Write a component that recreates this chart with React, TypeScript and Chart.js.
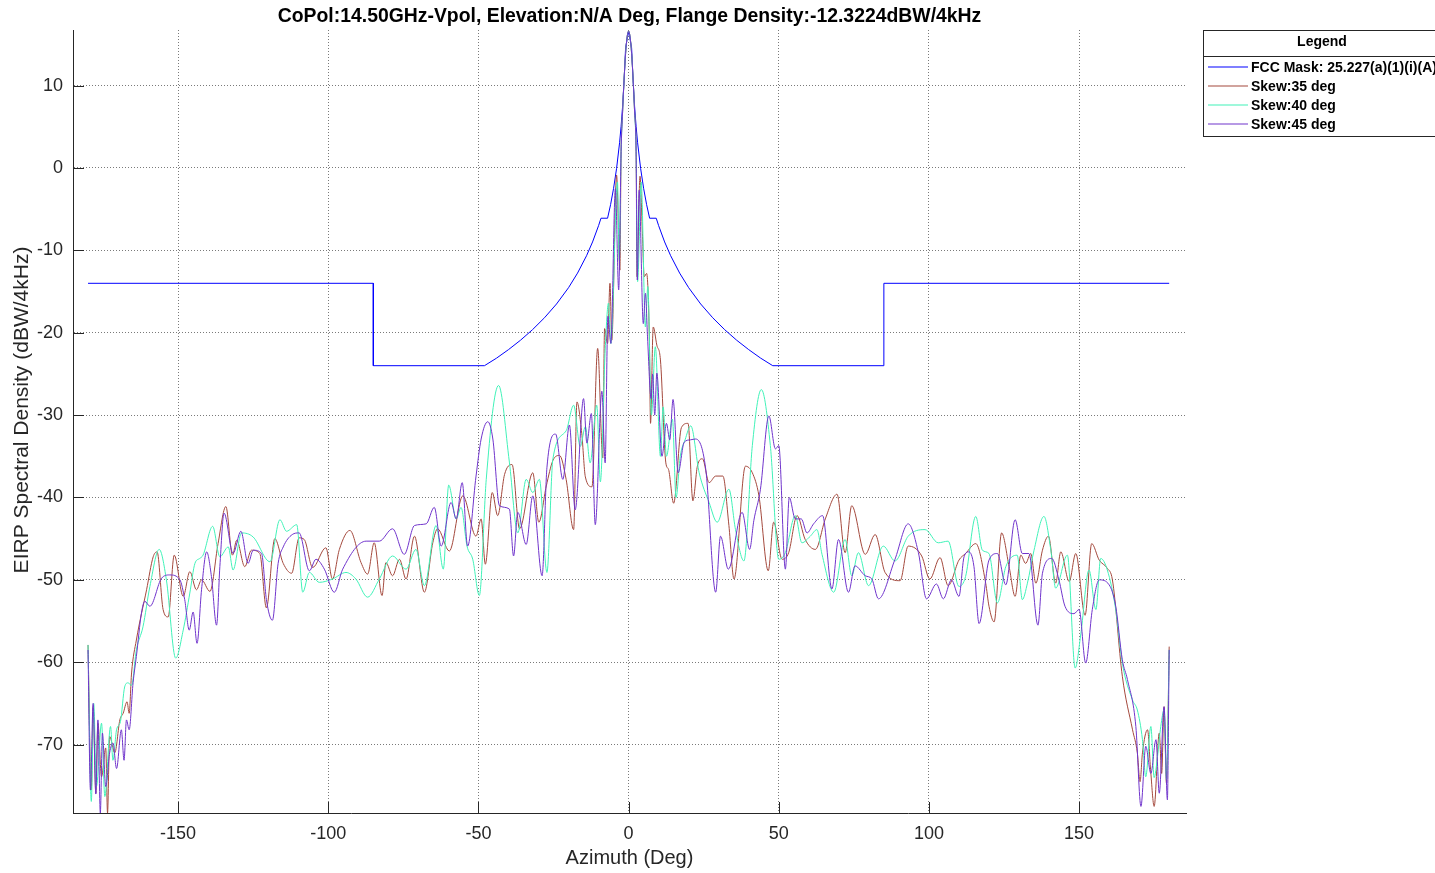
import React, { useEffect, useRef } from "react";
import { Chart, registerables } from "chart.js";

Chart.register(...registerables);

const chartTitle =
  "CoPol:14.50GHz-Vpol, Elevation:N/A Deg, Flange Density:-12.3224dBW/4kHz";
const xAxisTitle = "Azimuth (Deg)";
const yAxisTitle = "EIRP Spectral Density (dBW/4kHz)";
const legendTitle = "Legend";

const xTicks = [-150, -100, -50, 0, 50, 100, 150];
const yTicks = [-70, -60, -50, -40, -30, -20, -10, 0, 10];

const seriesNames = [
  "FCC Mask: 25.227(a)(1)(i)(A)",
  "Skew:35 deg",
  "Skew:40 deg",
  "Skew:45 deg",
];
const seriesColors = ["#0000ff", "#a4493d", "#40f2b8", "#7034cc"];

// [azimuth deg, dBW/4kHz]
const fccMask: [number, number][] = [
  [-180, -14], [-85, -14], [-85, -24], [-48, -24], [-44, -23.09], [-40, -22.05],
  [-36, -20.91], [-32, -19.63], [-28, -18.18], [-24, -16.51], [-20, -14.53],
  [-17, -12.76], [-14, -10.65], [-12, -8.98], [-10, -7.0], [-9.2, -6.1],
  [-7, -6.1], [-6, -4.45], [-5, -2.47], [-4, -0.05], [-3, 3.07], [-2.5, 5.05],
  [-2, 7.47], [-1.5, 10.6], [-1, 14.6], [0, 16.6], [1, 14.6], [1.5, 10.6],
  [2, 7.47], [2.5, 5.05], [3, 3.07], [4, -0.05], [5, -2.47], [6, -4.45],
  [7, -6.1], [9.2, -6.1], [10, -7.0], [12, -8.98], [14, -10.65], [17, -12.76],
  [20, -14.53], [24, -16.51], [28, -18.18], [32, -19.63], [36, -20.91],
  [40, -22.05], [44, -23.09], [48, -24], [85, -24], [85, -14], [180, -14],
];

const mainLobe: [number, number][] = [
  [-2.5, 2.0], [-2.0, 6.8], [-1.5, 10.8], [-1.0, 13.9], [-0.5, 15.9], [0, 16.6],
  [0.5, 15.9], [1.0, 13.9], [1.5, 10.8], [2.0, 6.8], [2.5, 2.0],
];

const skew35: [number, number][] = [
  [-180, -57.9], [-178.9, -75.5], [-178.3, -65.4], [-177.4, -75.9], [-176.7, -67.4],
  [-175.5, -73.9], [-174.1, -70.4], [-173.5, -78.3], [-172.8, -69.0], [-171.1, -71.0],
  [-169.4, -67.0], [-168.3, -66.2], [-167.0, -64.8], [-166.3, -66.2], [-165.5, -61.3],
  [-163.9, -57.3], [-160.5, -51.2], [-158.3, -47.2], [-157.0, -46.6], [-155.0, -53.6],
  [-153.3, -54.5], [-151.3, -47.0], [-148.3, -52.0], [-146.1, -49.0], [-143.9, -51.2],
  [-142.2, -50.0], [-139.4, -51.4], [-136.7, -45.6], [-134.1, -41.1], [-131.9, -47.0],
  [-130.5, -45.2], [-127.8, -48.4], [-125.6, -46.4], [-122.8, -46.8], [-120.6, -53.4],
  [-117.8, -45.0], [-115.0, -48.0], [-112.2, -49.2], [-109.7, -44.9], [-108.0, -45.1],
  [-105.2, -48.5], [-100.8, -46.1], [-98.6, -49.9], [-96.3, -46.3], [-92.8, -44.0],
  [-89.1, -47.9], [-86.9, -49.3], [-84.7, -45.5], [-82.1, -51.9], [-80.8, -47.9],
  [-78.6, -49.5], [-76.3, -47.5], [-74.1, -49.9], [-71.3, -44.7], [-68.0, -51.5],
  [-65.2, -45.5], [-63.6, -43.8], [-59.7, -46.5], [-55.2, -39.8], [-50.8, -44.7],
  [-49.1, -42.6], [-47.7, -48.1], [-45.4, -39.4], [-43.6, -42.2], [-41.3, -37.2],
  [-38.8, -36.0], [-36.3, -43.8], [-31.9, -37.0], [-29.9, -43.0], [-27.4, -38.6],
  [-25.2, -35.5], [-23.0, -34.9], [-20.8, -37.8], [-18.3, -43.9], [-17.2, -28.4],
  [-15.6, -32.2], [-14.4, -37.5], [-12.2, -38.7], [-10.3, -21.9], [-8.6, -35.2],
  [-8.0, -19.5], [-7.0, -21.3], [-6.2, -14.0], [-5.6, -20.9], [-4.0, -0.85],
  [-2.9, -12.4],
  ...mainLobe,
  [2.8, -13.2], [3.8, -1.0], [4.6, -8.0], [5.2, -13.2], [6.0, -12.8], [6.9, -20.5],
  [7.3, -31.0], [8.2, -19.3], [9.4, -21.5], [10.6, -23.3], [12.4, -35.8], [13.3, -36.6],
  [15.0, -40.7], [17.6, -31.5], [19.8, -31.0], [21.4, -40.4], [22.9, -36.2], [24.6, -35.3],
  [26.8, -38.2], [29.0, -37.4], [31.4, -37.4], [33.4, -43.4], [35.1, -49.9], [38.9, -36.2],
  [41.2, -37.0], [43.4, -39.8], [46.5, -48.9], [48.3, -43.0], [51.1, -47.5], [53.3, -46.7],
  [56.1, -42.2], [58.8, -45.1], [62.2, -46.3], [65.5, -42.6], [69.4, -39.6], [72.1, -46.7],
  [74.3, -41.0], [78.8, -46.9], [82.1, -44.5], [85.4, -49.1], [90.4, -50.1], [93.1, -45.9],
  [97.6, -47.1], [100.3, -49.9], [103.7, -47.3], [106.4, -50.7], [110.0, -47.6],
  [112.2, -46.8], [115.6, -45.6], [118.9, -50.4], [120.0, -53.2], [121.7, -55.1],
  [124.2, -44.3], [126.7, -48.4], [128.7, -52.0], [130.6, -47.0], [132.2, -48.0],
  [133.9, -46.8], [135.6, -50.4], [137.8, -46.4], [139.8, -44.7], [142.2, -50.4],
  [143.9, -46.6], [146.7, -50.2], [148.9, -46.8], [152.0, -54.3], [154.2, -45.6],
  [156.7, -47.6], [159.4, -48.6], [161.1, -50.0], [164.4, -61.7], [167.8, -68.2],
  [169.4, -71.0], [170.3, -74.5], [171.1, -71.0], [172.8, -68.2], [173.8, -73.0],
  [175.0, -77.5], [176.7, -68.6], [177.5, -73.5], [178.3, -65.4], [179.1, -74.7],
  [180.0, -58.1],
];

const skew40: [number, number][] = [
  [-180, -57.9], [-178.9, -76.9], [-178.1, -65.0], [-177.2, -75.1], [-175.5, -67.4],
  [-174.4, -76.3], [-172.5, -67.8], [-171.7, -71.9], [-170.5, -68.2], [-169.2, -67.2],
  [-167.8, -63.0], [-166.7, -62.5], [-165.5, -62.8], [-163.9, -58.5], [-161.7, -55.7],
  [-159.4, -50.8], [-156.3, -46.3], [-153.9, -50.0], [-150.8, -59.5], [-148.3, -56.1],
  [-146.1, -51.6], [-144.4, -48.0], [-142.8, -47.4], [-141.7, -47.0], [-138.5, -43.5],
  [-136.1, -47.2], [-133.3, -46.0], [-131.7, -48.8], [-128.9, -44.3], [-125.0, -44.8],
  [-119.4, -47.8], [-116.1, -42.7], [-113.9, -44.1], [-110.5, -43.3], [-108.5, -51.5],
  [-106.3, -49.1], [-103.0, -50.3], [-98.6, -49.9], [-94.1, -49.1], [-90.8, -49.9],
  [-86.9, -52.1], [-83.0, -49.9], [-78.6, -47.1], [-74.1, -48.7], [-70.8, -46.3],
  [-68.0, -50.7], [-64.1, -43.4], [-61.7, -48.7], [-59.9, -38.5], [-57.4, -42.6],
  [-55.8, -41.2], [-53.8, -45.9], [-51.9, -47.5], [-49.7, -51.9], [-47.4, -37.8],
  [-43.3, -26.4], [-39.7, -35.7], [-36.9, -44.3], [-34.1, -37.8], [-31.9, -39.4],
  [-29.7, -37.8], [-27.2, -49.1], [-25.2, -35.3], [-20.8, -31.9], [-18.3, -28.8],
  [-16.1, -33.8], [-14.4, -31.4], [-12.8, -35.8], [-10.6, -28.8], [-9.4, -38.1],
  [-7.8, -22.1], [-6.7, -16.4], [-5.9, -21.3], [-3.7, -1.7], [-3.1, -11.2],
  ...mainLobe,
  [3.0, -13.8], [4.2, -1.7], [5.6, -19.3], [6.4, -14.4], [7.6, -30.0], [8.9, -21.7],
  [10.6, -35.0], [11.5, -29.0], [12.6, -35.0], [14.6, -30.5], [15.8, -40.0], [17.2, -35.0],
  [18.8, -33.0], [20.7, -31.3], [23.5, -37.0], [26.8, -40.6], [29.5, -43.0], [33.4, -39.0],
  [35.6, -43.9], [38.4, -47.7], [41.2, -33.7], [44.2, -26.9], [47.2, -33.7], [50.0, -47.5],
  [52.2, -46.7], [55.5, -42.2], [57.7, -45.5], [60.5, -44.7], [62.7, -43.9], [64.4, -46.9],
  [68.3, -51.5], [72.1, -45.1], [74.3, -49.5], [76.5, -46.7], [79.9, -50.7], [84.8, -45.9],
  [88.7, -47.7], [93.1, -44.7], [98.7, -43.9], [103.1, -45.5], [106.4, -45.3],
  [110.0, -50.8], [112.2, -49.6], [115.6, -42.3], [117.8, -46.4], [120.0, -46.8],
  [122.8, -52.8], [125.6, -48.4], [129.4, -47.0], [131.1, -52.4], [132.8, -50.4],
  [135.0, -46.4], [138.3, -42.3], [140.6, -46.4], [142.2, -51.0], [146.1, -47.0],
  [148.7, -60.7], [150.6, -56.5], [153.3, -48.8], [155.6, -53.6], [157.2, -47.4],
  [159.4, -48.8], [162.2, -53.6], [164.4, -60.1], [167.8, -64.6], [169.4, -65.8],
  [171.1, -69.4], [172.2, -73.9], [173.9, -67.8], [175.0, -74.0], [176.1, -71.5],
  [177.2, -67.8], [178.3, -65.8], [179.1, -74.3], [180.0, -58.5],
];

const skew45: [number, number][] = [
  [-180, -58.5], [-179.2, -75.5], [-178.3, -65.0], [-177.4, -76.0], [-176.7, -67.0],
  [-175.9, -78.3], [-175.2, -68.6], [-174.1, -75.1], [-172.8, -71.0], [-171.7, -69.8],
  [-170.5, -72.9], [-168.9, -68.2], [-168.0, -71.9], [-167.2, -67.0], [-166.3, -68.2],
  [-165.0, -62.5], [-163.9, -59.3], [-162.2, -54.0], [-161.1, -52.6], [-159.4, -53.2],
  [-155.5, -49.8], [-152.8, -49.4], [-149.4, -50.0], [-147.8, -52.4], [-146.3, -56.1],
  [-145.0, -53.9], [-143.7, -57.7], [-142.2, -51.2], [-140.5, -46.6], [-138.9, -49.6],
  [-137.2, -55.5], [-136.1, -48.4], [-134.7, -41.9], [-131.7, -46.8], [-129.1, -44.1],
  [-126.7, -48.0], [-125.0, -46.4], [-122.2, -46.8], [-120.6, -52.4], [-118.6, -54.9],
  [-116.7, -48.0], [-115.0, -46.0], [-112.0, -44.5], [-109.7, -44.3], [-106.3, -48.9],
  [-104.1, -47.5], [-101.3, -48.7], [-98.0, -51.5], [-95.2, -48.7], [-87.4, -45.3],
  [-83.0, -45.3], [-78.6, -43.8], [-74.7, -46.9], [-71.3, -43.4], [-67.4, -43.2],
  [-64.7, -41.2], [-62.4, -45.9], [-59.1, -40.6], [-57.4, -42.6], [-55.4, -38.2],
  [-53.6, -45.9], [-50.8, -37.4], [-49.1, -32.9], [-46.9, -30.8], [-45.2, -32.9],
  [-43.0, -41.0], [-39.7, -41.4], [-38.3, -47.1], [-36.9, -41.8], [-34.1, -45.7],
  [-31.9, -39.8], [-28.8, -49.5], [-27.2, -36.4], [-24.3, -32.3], [-21.9, -37.8],
  [-19.7, -31.2], [-17.8, -41.5], [-15.0, -28.0], [-13.9, -33.4], [-12.4, -29.8],
  [-11.1, -43.3], [-8.9, -27.1], [-7.8, -35.8], [-6.9, -18.0], [-5.9, -21.3],
  [-4.4, -2.5], [-3.3, -14.8],
  ...mainLobe,
  [2.9, -13.6], [3.5, -2.7], [4.9, -18.9], [5.6, -15.2], [6.3, -20.5], [7.5, -28.0],
  [8.0, -25.0], [8.7, -30.0], [9.4, -24.9], [11.1, -35.0], [12.6, -31.0], [13.7, -33.0],
  [14.8, -28.1], [16.5, -37.0], [18.5, -33.3], [20.6, -33.0], [22.3, -32.9], [25.7, -36.6],
  [29.0, -51.5], [30.6, -44.7], [33.2, -48.7], [37.8, -41.8], [40.3, -46.3], [41.7, -42.8],
  [43.9, -39.0], [46.7, -30.1], [48.9, -34.1], [50.0, -33.7], [52.2, -48.7], [53.5, -40.0],
  [55.5, -42.6], [57.5, -42.6], [59.4, -44.3], [61.6, -43.2], [64.6, -42.2], [67.7, -51.1],
  [69.9, -45.1], [73.2, -51.5], [75.4, -48.3], [78.8, -49.5], [81.0, -49.9], [83.2, -52.3],
  [88.7, -47.5], [93.1, -43.2], [96.5, -46.7], [99.2, -52.3], [102.5, -50.5], [104.8, -52.3],
  [107.5, -50.0], [110.0, -52.0], [111.7, -47.2], [113.3, -46.6], [115.0, -48.4],
  [116.7, -55.3], [120.0, -47.6], [122.8, -46.8], [125.6, -50.6], [128.7, -42.7],
  [131.1, -46.8], [133.3, -46.8], [136.3, -55.5], [137.8, -49.2], [140.9, -47.4],
  [143.3, -50.0], [145.3, -53.2], [148.3, -54.1], [150.0, -53.6], [152.2, -60.1],
  [154.4, -53.6], [156.7, -50.0], [160.0, -50.6], [162.2, -53.2], [164.4, -59.7],
  [166.1, -62.1], [168.9, -67.8], [170.6, -77.5], [172.2, -70.2], [173.9, -73.5],
  [175.6, -69.4], [176.7, -75.9], [178.3, -65.4], [179.4, -76.7], [180.0, -58.5],
];

const FONT = '"Liberation Sans", Arial, Helvetica, sans-serif';
const W = 1435;
const H = 873;

const toXY = (arr: [number, number][]) => arr.map(([x, y]) => ({ x, y }));

const decorPlugin = {
  id: "decor",
  afterDraw(chart: any) {
    const { ctx, chartArea: a, scales } = chart;
    const xs = scales.x;
    const ys = scales.y;
    ctx.save();
    // inward tick marks
    ctx.strokeStyle = "#262626";
    ctx.lineWidth = 1;
    ctx.setLineDash([]);
    ctx.beginPath();
    for (const v of xTicks) {
      const px = Math.round(xs.getPixelForValue(v)) + 0.5;
      ctx.moveTo(px, a.bottom);
      ctx.lineTo(px, a.bottom - 11);
    }
    for (const v of yTicks) {
      const py = Math.round(ys.getPixelForValue(v)) + 0.5;
      ctx.moveTo(a.left, py);
      ctx.lineTo(a.left + 11, py);
    }
    ctx.stroke();

    // title
    ctx.fillStyle = "#000";
    ctx.textAlign = "center";
    ctx.textBaseline = "middle";
    ctx.font = `bold 19.4px ${FONT}`;
    ctx.fillText(chartTitle, (a.left + a.right) / 2, 17);

    // axis titles
    ctx.fillStyle = "#262626";
    ctx.font = `20px ${FONT}`;
    ctx.fillText(xAxisTitle, (a.left + a.right) / 2, 858);
    ctx.save();
    ctx.translate(22, 410);
    ctx.rotate(-Math.PI / 2);
    ctx.font = `21px ${FONT}`;
    ctx.fillText(yAxisTitle, 0, 0);
    ctx.restore();

    // legend box
    const lx = 1203.5;
    const ly = 30.5;
    const lw = 242;
    const lh = 106;
    ctx.fillStyle = "#fff";
    ctx.fillRect(lx, ly, lw, lh);
    ctx.strokeStyle = "#262626";
    ctx.strokeRect(lx, ly, lw, lh);
    ctx.beginPath();
    ctx.moveTo(lx, 56.5);
    ctx.lineTo(lx + lw, 56.5);
    ctx.stroke();
    ctx.fillStyle = "#000";
    ctx.font = `bold 14px ${FONT}`;
    ctx.textAlign = "center";
    ctx.fillText(legendTitle, 1322, 42);
    ctx.textAlign = "left";
    seriesNames.forEach((name, i) => {
      const yy = 67 + i * 19;
      ctx.strokeStyle = seriesColors[i];
      ctx.lineWidth = 1.2;
      ctx.beginPath();
      ctx.moveTo(1208, yy);
      ctx.lineTo(1248, yy);
      ctx.stroke();
      ctx.fillStyle = "#000";
      ctx.fillText(name, 1251, yy + 1);
    });
    ctx.restore();
  },
};

export default function App() {
  const canvasRef = useRef<HTMLCanvasElement | null>(null);

  useEffect(() => {
    const canvas = canvasRef.current;
    if (!canvas) return;
    const series = [fccMask, skew35, skew40, skew45];
    const orders = [3, 2, 1, 0];
    const chart = new Chart(canvas, {
      type: "line",
      data: {
        datasets: series.map((s, i) => ({
          label: seriesNames[i],
          data: toXY(s),
          borderColor: seriesColors[i],
          backgroundColor: seriesColors[i],
          borderWidth: 1,
          pointRadius: 0,
          fill: false,
          order: orders[i],
          cubicInterpolationMode: i === 0 ? "default" : "monotone",
          tension: 0,
        })),
      },
      options: {
        animation: false,
        responsive: false,
        devicePixelRatio: 1,
        layout: { padding: { left: 8, top: 30, right: 249, bottom: 0 } },
        plugins: {
          legend: { display: false },
          title: { display: false },
          tooltip: { enabled: false },
        },
        scales: {
          x: {
            type: "linear",
            min: -185,
            max: 185.6,
            afterBuildTicks: (axis: any) => {
              axis.ticks = xTicks.map((v) => ({ value: v }));
            },
            afterFit: (axis: any) => {
              axis.height = 60;
            },
            ticks: {
              padding: 10,
              color: "#262626",
              font: { family: FONT, size: 18 },
              callback: (v: any) => String(v),
              maxRotation: 0,
            },
            grid: {
              color: "#7a7a7a",
              lineWidth: 1,
              drawTicks: false,
            },
            border: { display: true, color: "#262626", width: 1, dash: [1, 2] },
          },
          y: {
            type: "linear",
            min: -78.3,
            max: 16.75,
            afterBuildTicks: (axis: any) => {
              axis.ticks = yTicks.map((v) => ({ value: v }));
            },
            afterFit: (axis: any) => {
              axis.width = 65;
            },
            ticks: {
              padding: 10,
              color: "#262626",
              font: { family: FONT, size: 18 },
              callback: (v: any) => String(v),
            },
            grid: {
              color: "#7a7a7a",
              lineWidth: 1,
              drawTicks: false,
            },
            border: { display: true, color: "#262626", width: 1, dash: [1, 2] },
          },
        },
      },
      plugins: [decorPlugin],
    } as any);
    return () => chart.destroy();
  }, []);

  return (
    <div
      style={{
        position: "fixed",
        left: 0,
        top: 0,
        width: W,
        height: H,
        background: "#fff",
      }}
    >
      <canvas ref={canvasRef} width={W} height={H} style={{ width: W, height: H }} />
    </div>
  );
}
